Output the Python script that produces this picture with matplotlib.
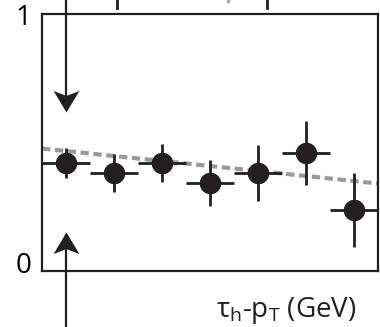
import numpy as np
import matplotlib.pyplot as plt
from matplotlib.path import Path

plt.rcParams['font.family'] = ['Open Sans', 'DejaVu Sans']

# binned ratio vs tau pT (7 equal-width bins)
bin_centers = np.array([0.5, 1.5, 2.5, 3.5, 4.5, 5.5, 6.5])
bin_halfwidth = np.full(7, 0.49)
ratio = np.array([0.40, 0.36, 0.40, 0.32, 0.36, 0.44, 0.21])
ratio_err = np.array([0.06, 0.077, 0.077, 0.093, 0.113, 0.13, 0.15])

# linear fit shown as dashed line
fit_x = np.array([0.0, 7.0])
fit_y = np.array([0.458, 0.317])

# stubs of error bars from the panel above
stub_x = [1.56, 4.68]

fig = plt.figure(figsize=(3.8, 3.27), dpi=100)
ax = fig.add_axes([0.1105, 0.171, 0.8842, 0.786])

ax.plot(fit_x, fit_y, color='#999999', lw=3.0, ls=(0, (2.0, 1.1)), zorder=2)
ax.errorbar(bin_centers, ratio, xerr=bin_halfwidth, yerr=ratio_err,
            fmt='o', color='#231f20', ms=14.5, elinewidth=2.0, capsize=0,
            zorder=3)

ax.set_xlim(0, 7)
ax.set_ylim(-0.036, 1.0)
ax.set_xticks([])
ax.set_yticks([0, 1])
ax.set_yticklabels(['0', '1'], fontsize=20)
ax.tick_params(axis='y', length=0, pad=13.5)
for lbl in ax.get_yticklabels():
    lbl.set_horizontalalignment('center')
for s in ax.spines.values():
    s.set_linewidth(1.6)
    s.set_color('#231f20')

# notched arrowheads pointing at the first bin
head_down = Path([(0, 0), (-0.6, 1.0), (0, 0.77), (0.6, 1.0), (0, 0)],
                 [Path.MOVETO, Path.LINETO, Path.LINETO, Path.LINETO, Path.CLOSEPOLY])
head_up = Path([(0, 0), (-0.6, -1.0), (0, -0.77), (0.6, -1.0), (0, 0)],
               [Path.MOVETO, Path.LINETO, Path.LINETO, Path.LINETO, Path.CLOSEPOLY])
arrow_x = bin_centers[0]
ax.plot([arrow_x, arrow_x], [1.2, 0.62], color='#231f20', lw=1.6, clip_on=False)
ax.plot([arrow_x, arrow_x], [-0.4, 0.11], color='#231f20', lw=1.6, clip_on=False)
ax.plot(arrow_x, 0.606, marker=head_down, ms=31, color='#231f20',
        mew=0, clip_on=False)
ax.plot(arrow_x, 0.122, marker=head_up, ms=31, color='#231f20',
        mew=0, clip_on=False)

for sx in stub_x:
    ax.plot([sx, sx], [1.025, 1.2], color='#231f20', lw=2.0, clip_on=False)
ax.plot([3.87, 3.87], [1.052, 1.2], color='#aaaaaa', lw=2.5, clip_on=False)

fig.text(0.568, 0.03, r'$\mathregular{\tau_h}$-$\mathregular{p_T}$ (GeV)',
         fontsize=20, ha='left', va='baseline', color='#231f20')

fig.savefig('out.png', dpi=100)
